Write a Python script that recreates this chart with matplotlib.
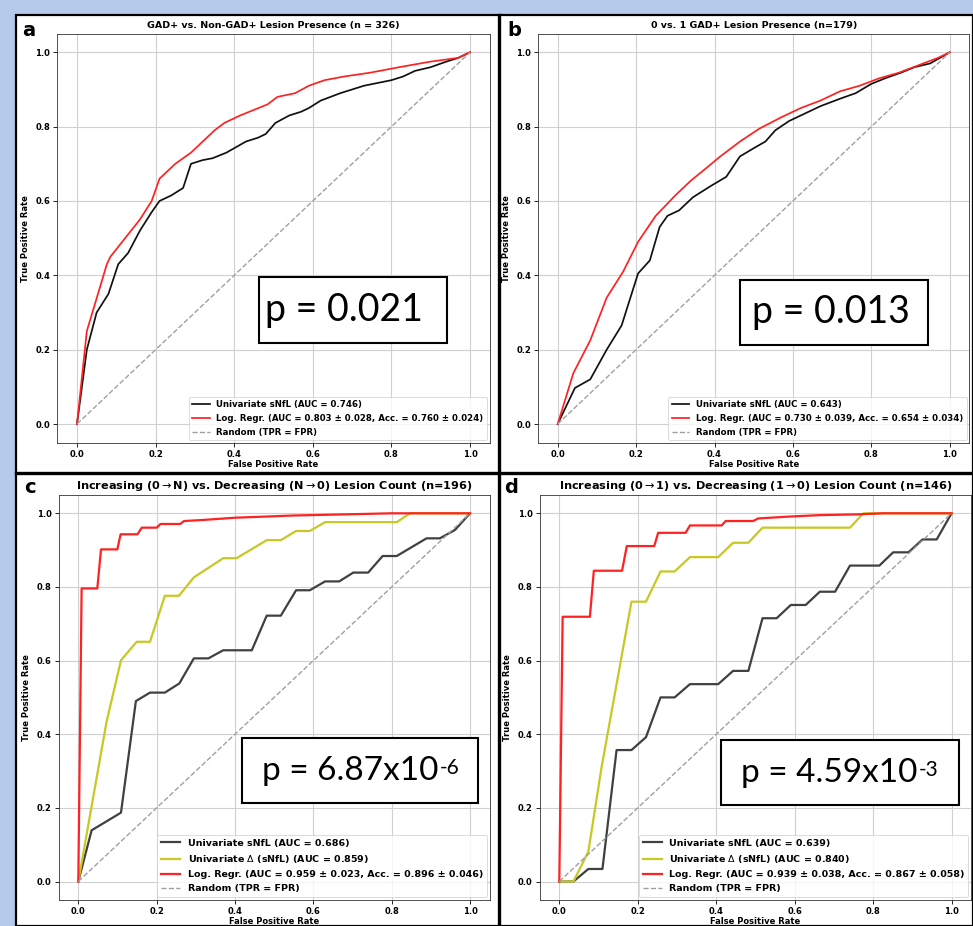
import matplotlib.pyplot as plt
from matplotlib.patches import Rectangle
from matplotlib.lines import Line2D

# ---- data ----
# panel a
a_uni_fpr = [0, 0.025, 0.05, 0.08, 0.105, 0.13, 0.16, 0.19, 0.21, 0.24, 0.27, 0.29, 0.32, 0.345,
             0.38, 0.43, 0.46, 0.48, 0.505, 0.54, 0.57, 0.59, 0.62, 0.645, 0.67, 0.70, 0.73, 0.80,
             0.83, 0.86, 0.90, 0.94, 0.97, 1.0]
a_uni_tpr = [0, 0.20, 0.30, 0.35, 0.43, 0.46, 0.52, 0.57, 0.60, 0.615, 0.635, 0.70, 0.71, 0.715,
             0.73, 0.76, 0.77, 0.78, 0.81, 0.83, 0.84, 0.85, 0.87, 0.88, 0.89, 0.90, 0.91, 0.925,
             0.935, 0.95, 0.96, 0.975, 0.985, 1.0]
a_lr_fpr = [0, 0.025, 0.076, 0.085, 0.16, 0.19, 0.21, 0.25, 0.29, 0.325, 0.35, 0.375, 0.415, 0.45,
            0.485, 0.51, 0.555, 0.59, 0.63, 0.68, 0.745, 0.82, 0.90, 0.97, 1.0]
a_lr_tpr = [0, 0.25, 0.43, 0.45, 0.55, 0.60, 0.66, 0.70, 0.73, 0.765, 0.79, 0.81, 0.83, 0.845,
            0.86, 0.88, 0.89, 0.91, 0.925, 0.935, 0.945, 0.96, 0.975, 0.985, 1.0]

# panel b
b_uni_fpr = [0, 0.044, 0.083, 0.125, 0.163, 0.205, 0.235, 0.26, 0.28, 0.31, 0.345, 0.39, 0.43,
             0.465, 0.505, 0.53, 0.555, 0.59, 0.63, 0.67, 0.72, 0.76, 0.80, 0.835, 0.875, 0.91,
             0.95, 1.0]
b_uni_tpr = [0, 0.097, 0.12, 0.20, 0.265, 0.405, 0.44, 0.53, 0.56, 0.575, 0.61, 0.64, 0.665,
             0.72, 0.745, 0.76, 0.79, 0.815, 0.835, 0.855, 0.875, 0.89, 0.915, 0.93, 0.945, 0.96,
             0.97, 1.0]
b_lr_fpr = [0, 0.04, 0.083, 0.125, 0.167, 0.205, 0.25, 0.30, 0.34, 0.375, 0.415, 0.465, 0.515,
            0.57, 0.62, 0.67, 0.72, 0.77, 0.82, 0.87, 0.92, 0.97, 1.0]
b_lr_tpr = [0, 0.137, 0.225, 0.34, 0.41, 0.49, 0.56, 0.615, 0.655, 0.685, 0.72, 0.76, 0.795,
            0.825, 0.85, 0.87, 0.895, 0.91, 0.93, 0.945, 0.965, 0.985, 1.0]

# panel c
c_uni_fpr = [0, 0.034, 0.109, 0.147, 0.183, 0.221, 0.258, 0.295, 0.332, 0.370, 0.443, 0.481,
             0.517, 0.556, 0.591, 0.630, 0.666, 0.702, 0.740, 0.777, 0.813, 0.889, 0.923, 0.962, 1.0]
c_uni_tpr = [0, 0.139, 0.187, 0.49, 0.513, 0.513, 0.538, 0.606, 0.606, 0.628, 0.628, 0.722,
             0.722, 0.791, 0.791, 0.815, 0.815, 0.839, 0.839, 0.884, 0.884, 0.932, 0.932, 0.955, 1.0]
c_delta_fpr = [0, 0.072, 0.109, 0.149, 0.183, 0.221, 0.257, 0.295, 0.370, 0.404, 0.481, 0.517,
               0.556, 0.591, 0.63, 0.813, 0.847, 1.0]
c_delta_tpr = [0, 0.433, 0.601, 0.651, 0.651, 0.776, 0.776, 0.826, 0.878, 0.878, 0.927, 0.927,
               0.952, 0.952, 0.976, 0.976, 1.0, 1.0]
c_lr_fpr = [0, 0.0085, 0.0485, 0.058, 0.0996, 0.108, 0.151, 0.162, 0.20, 0.21, 0.26, 0.27, 0.32,
            0.40, 0.55, 0.72, 0.80, 1.0]
c_lr_tpr = [0, 0.796, 0.796, 0.902, 0.902, 0.943, 0.943, 0.961, 0.961, 0.971, 0.971, 0.979, 0.982,
            0.988, 0.994, 0.998, 1.0, 1.0]

# panel d
d_uni_fpr = [0, 0.036, 0.074, 0.110, 0.146, 0.184, 0.221, 0.258, 0.294, 0.333, 0.405, 0.443,
             0.482, 0.518, 0.554, 0.590, 0.628, 0.664, 0.703, 0.741, 0.816, 0.851, 0.890, 0.926,
             0.962, 1.0]
d_uni_tpr = [0, 0, 0.034, 0.034, 0.357, 0.357, 0.392, 0.5, 0.5, 0.536, 0.536, 0.572, 0.572,
             0.715, 0.715, 0.751, 0.751, 0.787, 0.787, 0.858, 0.858, 0.894, 0.894, 0.929, 0.929, 1.0]
d_delta_fpr = [0, 0.036, 0.074, 0.108, 0.184, 0.221, 0.258, 0.294, 0.333, 0.405, 0.443, 0.482,
               0.518, 0.741, 0.775, 1.0]
d_delta_tpr = [0, 0, 0.081, 0.312, 0.760, 0.760, 0.842, 0.842, 0.881, 0.881, 0.920, 0.920,
               0.961, 0.961, 1.0, 1.0]
d_lr_fpr = [0, 0.0085, 0.078, 0.088, 0.160, 0.172, 0.242, 0.252, 0.322, 0.333, 0.414, 0.424,
            0.494, 0.507, 0.584, 0.664, 0.758, 0.826, 1.0]
d_lr_tpr = [0, 0.719, 0.719, 0.844, 0.844, 0.911, 0.911, 0.947, 0.947, 0.967, 0.967, 0.979,
            0.979, 0.986, 0.991, 0.995, 0.997, 1.0, 1.0]

titles = ['GAD+ vs. Non-GAD+ Lesion Presence (n = 326)',
          '0 vs. 1 GAD+ Lesion Presence (n=179)',
          r'Increasing (0$\rightarrow$N) vs. Decreasing (N$\rightarrow$0) Lesion Count (n=196)',
          r'Increasing (0$\rightarrow$1) vs. Decreasing (1$\rightarrow$0) Lesion Count (n=146)']
uni_labels = ['Univariate sNfL (AUC = 0.746)', 'Univariate sNfL (AUC = 0.643)',
              'Univariate sNfL (AUC = 0.686)', 'Univariate sNfL (AUC = 0.639)']
delta_labels = [None, None,
                r'Univariate $\Delta$ (sNfL) (AUC = 0.859)',
                r'Univariate $\Delta$ (sNfL) (AUC = 0.840)']
lr_labels = ['Log. Regr. (AUC = 0.803 ± 0.028, Acc. = 0.760 ± 0.024)',
             'Log. Regr. (AUC = 0.730 ± 0.039, Acc. = 0.654 ± 0.034)',
             'Log. Regr. (AUC = 0.959 ± 0.023, Acc. = 0.896 ± 0.046)',
             'Log. Regr. (AUC = 0.939 ± 0.038, Acc. = 0.867 ± 0.058)']
p_base = ['p = 0.021', 'p = 0.013', 'p = 6.87x10', 'p = 4.59x10']
p_exp = ['', '', '-6', '-3']
letters = ['a', 'b', 'c', 'd']

W, H = 973, 926
fig = plt.figure(figsize=(W / 100, H / 100), dpi=100)
fig.patch.set_facecolor('#b6cbeb')

# white sheet with black frame and dividers
fig.patches.append(Rectangle((16 / W, 0), (W - 16) / W, 1 - 15 / H, transform=fig.transFigure,
                             facecolor='white', edgecolor='black', linewidth=1.6, zorder=-5))
fig.lines.append(Line2D([498.5 / W] * 2, [0, 1 - 15 / H], transform=fig.transFigure,
                        color='black', linewidth=2.4, zorder=3))
fig.lines.append(Line2D([16 / W, 1], [1 - 472.5 / H] * 2, transform=fig.transFigure,
                        color='black', linewidth=2.4, zorder=3))


def px_axes(x0, xs, y1, ys):
    # x0: pixel of fpr=0, xs: px per unit; y1: pixel of tpr=1, ys: px per unit
    left = x0 - 0.05 * xs
    right = x0 + 1.05 * xs
    top = y1 - 0.05 * ys
    bottom = y1 + 1.05 * ys
    return fig.add_axes([left / W, 1 - bottom / H, (right - left) / W, (bottom - top) / H])


axes = [px_axes(77, 393, 52.3, 371.7), px_axes(557.7, 392, 52.3, 371.7),
        px_axes(78.3, 391.7, 513.3, 368.2), px_axes(559.3, 392.3, 513.3, 368.2)]

uni = [(a_uni_fpr, a_uni_tpr), (b_uni_fpr, b_uni_tpr), (c_uni_fpr, c_uni_tpr), (d_uni_fpr, d_uni_tpr)]
delta = [None, None, (c_delta_fpr, c_delta_tpr), (d_delta_fpr, d_delta_tpr)]
lr = [(a_lr_fpr, a_lr_tpr), (b_lr_fpr, b_lr_tpr), (c_lr_fpr, c_lr_tpr), (d_lr_fpr, d_lr_tpr)]
boxes = [(259, 447, 277, 343), (740, 928, 280, 345), (242, 478, 738, 803), (721, 959, 740, 805)]
letter_pos = [(29, 31), (514, 30), (30, 487), (511, 487)]

for i, ax in enumerate(axes):
    big = i >= 2
    lw = 1.6 if big else 1.25
    fs = 6.8 if big else 6.2
    ax.plot(*uni[i], color='#111111' if not big else '#404040', linewidth=lw, label=uni_labels[i])
    if delta[i] is not None:
        ax.plot(*delta[i], color='#c8c825', linewidth=lw, label=delta_labels[i])
    ax.plot(*lr[i], color='#ff2222', linewidth=lw, label=lr_labels[i])
    ax.plot([0, 1], [0, 1], linestyle='--', color='#a0a0a0', linewidth=1.0, label='Random (TPR = FPR)')
    ax.set_xlim(-0.05, 1.05)
    ax.set_ylim(-0.05, 1.05)
    ax.set_xticks([0, 0.2, 0.4, 0.6, 0.8, 1.0])
    ax.set_yticks([0, 0.2, 0.4, 0.6, 0.8, 1.0])
    ax.grid(True, color='#d0d0d0', linewidth=0.8)
    ax.tick_params(labelsize=6.0, length=3, width=0.6, pad=2)
    for lab in ax.get_xticklabels() + ax.get_yticklabels():
        lab.set_fontweight('bold')
    for s in ax.spines.values():
        s.set_linewidth(0.6)
        s.set_color('#333333')
    ax.set_xlabel('False Positive Rate', fontsize=6.0, fontweight='bold', labelpad=1)
    ax.set_ylabel('True Positive Rate', fontsize=6.0, fontweight='bold', labelpad=4)
    ax.set_title(titles[i], fontsize=8.15 if big else 6.8, fontweight='bold', pad=4)
    leg = ax.legend(loc='lower right', prop={'size': fs, 'weight': 'bold'}, framealpha=0.8,
                    borderaxespad=0.3, handlelength=2.0, labelspacing=0.55)
    leg.get_frame().set_linewidth(0.6)

    bx0, bx1, by0, by1 = boxes[i]
    fig.patches.append(Rectangle((bx0 / W, 1 - by1 / H), (bx1 - bx0) / W, (by1 - by0) / H,
                                 transform=fig.transFigure, facecolor='white', edgecolor='black',
                                 linewidth=1.5, zorder=5))
    if p_exp[i]:
        t = fig.text((bx0 + 20) / W, 1 - (by0 + by1) / 2 / H, p_base[i], fontsize=24,
                     family='Lato', ha='left', va='center', zorder=6)
        fig.canvas.draw()
        ext = t.get_window_extent()
        fig.text((ext.x1 + 1) / W, (ext.y1 - 2) / H, p_exp[i], fontsize=15,
                 family='Lato', ha='left', va='top', zorder=6)
    elif i == 0:
        fig.text((bx0 + 6) / W, 1 - (by0 + by1) / 2 / H, p_base[i], fontsize=27,
                 family='Lato', ha='left', va='center', zorder=6)
    else:
        fig.text((bx0 + bx1 - 6) / 2 / W, 1 - (by0 + by1) / 2 / H, p_base[i], fontsize=27,
                 family='Lato', ha='center', va='center', zorder=6)

    lx, ly = letter_pos[i]
    fig.text(lx / W, 1 - ly / H, letters[i], fontsize=14, fontweight='bold',
             ha='center', va='center')

fig.savefig('out.png', dpi=100, facecolor=fig.get_facecolor())
